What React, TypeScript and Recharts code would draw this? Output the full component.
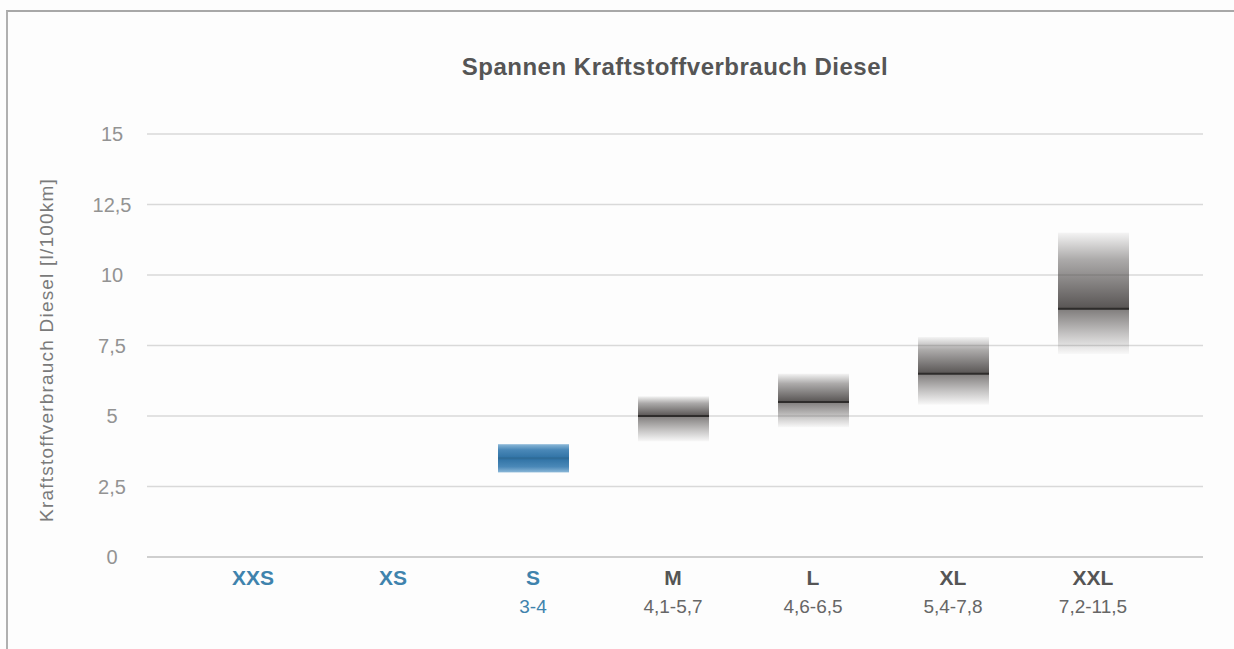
import React from 'react';
import { BarChart, Bar, XAxis, YAxis, CartesianGrid } from 'recharts';

const categories = ['XXS', 'XS', 'S', 'M', 'L', 'XL', 'XXL'];
const rangeLabels = ['', '', '3-4', '4,1-5,7', '4,6-6,5', '5,4-7,8', '7,2-11,5'];
const lowValues: (number | null)[] = [null, null, 3, 4.1, 4.6, 5.4, 7.2];
const highValues: (number | null)[] = [null, null, 4, 5.7, 6.5, 7.8, 11.5];
const midValues: (number | null)[] = [null, null, 3.5, 5.0, 5.5, 6.5, 8.8];
const yTicks = [0, 2.5, 5, 7.5, 10, 12.5, 15];

// the small sizes (XXS, XS, S) are the blue ones
const blueCount = 3;

const data = categories.map((name, i) => ({
  name,
  label: rangeLabels[i],
  low: lowValues[i],
  high: highValues[i],
  mid: midValues[i],
  range: lowValues[i] != null ? [lowValues[i], highValues[i]] : null,
}));

const BLUE = '#3f83ad';
const GREY_TXT = '#555';
const FONT = '"Liberation Sans", Arial, sans-serif';

const fmt = (v: number) => String(v).replace('.', ',');

const RangeShape = (props: any) => {
  const { x, y, width, height, payload } = props;
  if (!payload || payload.range == null || !height) return null;
  const idx = categories.indexOf(payload.name);
  const t = (payload.high - payload.mid) / (payload.high - payload.low);
  const midY = y + height * t;
  const blue = idx < blueCount;
  return (
    <g>
      <rect x={x} y={y} width={width} height={height} fill={`url(#rg-${idx})`} />
      <line x1={x} x2={x + width} y1={midY} y2={midY} stroke={blue ? '#2f6c98' : '#2e2c2b'} strokeWidth={2} />
    </g>
  );
};

const XTick = (props: any) => {
  const { x, y, payload, index } = props;
  const blue = index < blueCount;
  const color = blue ? BLUE : GREY_TXT;
  return (
    <g transform={`translate(${x},${y})`}>
      <text textAnchor="middle" y={0} dy={12} dominantBaseline="central" fill={color} fontFamily={FONT} fontWeight="bold" fontSize={21}>
        {payload.value}
      </text>
      <text textAnchor="middle" y={0} dy={41} dominantBaseline="central" fill={blue ? BLUE : '#666'} fontFamily={FONT} fontSize={19}>
        {rangeLabels[index]}
      </text>
    </g>
  );
};

const YTick = (props: any) => {
  const { y, payload } = props;
  return (
    <text x={112} y={y} textAnchor="middle" dominantBaseline="central" fill="#939393" fontFamily={FONT} fontSize={20}>
      {fmt(payload.value)}
    </text>
  );
};

const YLabel = () => (
  <text
    x={48}
    y={350}
    transform="rotate(-90 48 350)"
    textAnchor="middle"
    dominantBaseline="middle"
    fill="#7a7a7a"
    fontFamily={FONT}
    fontSize={19}
    letterSpacing={1.2}
  >
    Kraftstoffverbrauch Diesel [l/100km]
  </text>
);

export default function App() {
  return (
    <div style={{ position: 'fixed', left: 0, top: 0, width: 1234, height: 649, background: '#fdfdfd', overflow: 'hidden' }}>
      <div style={{ position: 'absolute', left: 6, top: 10, right: 0, bottom: 0, borderTop: '2px solid #a8a8a8', borderLeft: '2px solid #b0b0b0' }} />
      <div
        style={{
          position: 'absolute',
          top: 53,
          left: 375,
          width: 600,
          textAlign: 'center',
          fontFamily: FONT,
          fontWeight: 'bold',
          fontSize: 24,
          letterSpacing: 0.5,
          color: '#555',
          whiteSpace: 'nowrap',
        }}
      >
        Spannen Kraftstoffverbrauch Diesel
      </div>
      <div style={{ position: 'absolute', left: 0, top: 0 }}>
        <BarChart width={1234} height={649} data={data} margin={{ top: 134, right: 31, left: 87, bottom: 32 }} barSize={71}>
          <defs>
            {data.map((d, i) => {
              if (d.range == null) return null;
              const t = ((d.high as number) - (d.mid as number)) / ((d.high as number) - (d.low as number));
              if (i < blueCount) {
                return (
                  <linearGradient key={i} id={`rg-${i}`} x1="0" y1="0" x2="0" y2="1">
                    <stop offset="0%" stopColor="#8bb8d8" />
                    <stop offset="20%" stopColor="#4a88b8" />
                    <stop offset={`${t * 100}%`} stopColor="#2f72a4" />
                    <stop offset="80%" stopColor="#4a88b8" />
                    <stop offset="100%" stopColor="#8bb8d8" />
                  </linearGradient>
                );
              }
              return (
                <linearGradient key={i} id={`rg-${i}`} x1="0" y1="0" x2="0" y2="1">
                  <stop offset="0%" stopColor="#4a4645" stopOpacity={0.05} />
                  <stop offset={`${t * 35}%`} stopColor="#4a4645" stopOpacity={0.45} />
                  <stop offset={`${t * 100}%`} stopColor="#4a4645" stopOpacity={0.92} />
                  <stop offset={`${Math.min(100, t * 100 + 1)}%`} stopColor="#5a5655" stopOpacity={0.75} />
                  <stop offset={`${t * 100 + (1 - t) * 55}%`} stopColor="#5a5655" stopOpacity={0.35} />
                  <stop offset="100%" stopColor="#5a5655" stopOpacity={0.03} />
                </linearGradient>
              );
            })}
          </defs>
          <CartesianGrid vertical={false} stroke="#d9d9d9" strokeWidth={1.5} />
          <XAxis
            dataKey="name"
            axisLine={{ stroke: '#cfcfcf', strokeWidth: 2 }}
            tickLine={false}
            tick={<XTick />}
            interval={0}
            height={60}
            padding={{ left: 36, right: 40 }}
          />
          <YAxis
            domain={[0, 15]}
            ticks={yTicks}
            axisLine={false}
            tickLine={false}
            tick={<YTick />}
            width={60}
            label={{ content: () => <YLabel /> }}
          />
          <Bar dataKey="range" shape={<RangeShape />} isAnimationActive={false} />
        </BarChart>
      </div>
    </div>
  );
}
